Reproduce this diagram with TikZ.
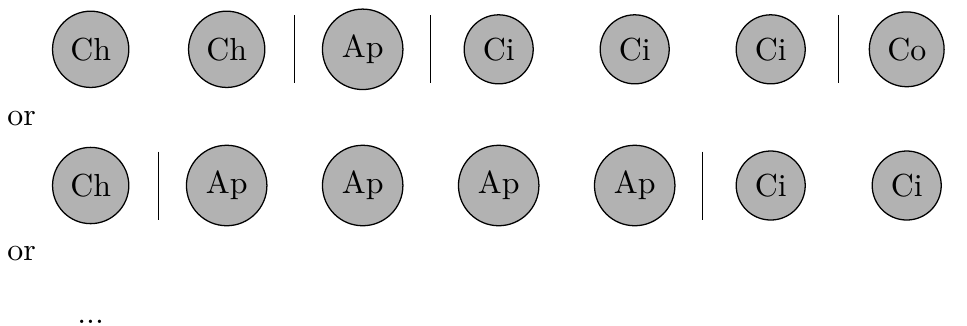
\documentclass[tikz,border=0pt]{standalone}
\begin{document}
\begin{tikzpicture}[
  ball/.style={circle, draw=black, fill=black!30},
  sep/.style={draw=black},
  txt/.style={inner sep=0pt, outer sep=0pt}
]
\useasboundingbox (0,0) rectangle (10.665,-3.585);
% row 1
\def\ya{-0.544}
\node[ball] (a1) at (1.0,\ya) {Ch};
\node[ball] (a2) at (2.5,\ya) {Ch};
\node[ball] (a3) at (4.0,\ya) {Ap};
\node[ball] (a4) at (5.5,\ya) {Ci};
\node[ball] (a5) at (7.0,\ya) {Ci};
\node[ball] (a6) at (8.5,\ya) {Ci};
\node[ball] (a7) at (10.0,\ya) {Co};
\coordinate (s1t) at (3.25,\ya+0.375); \coordinate (s1b) at (3.25,\ya-0.375);
\coordinate (s2t) at (4.75,\ya+0.375); \coordinate (s2b) at (4.75,\ya-0.375);
\coordinate (s3t) at (9.25,\ya+0.375); \coordinate (s3b) at (9.25,\ya-0.375);
\draw[sep] (s1t) -- (s1b);
\draw[sep] (s2t) -- (s2b);
\draw[sep] (s3t) -- (s3b);
% or
\node[txt, anchor=base west] (or1) at (0.082,-1.379) {or};
% row 2
\def\yb{-2.046}
\node[ball] (b1) at (1.0,\yb) {Ch};
\node[ball] (b2) at (2.5,\yb) {Ap};
\node[ball] (b3) at (4.0,\yb) {Ap};
\node[ball] (b4) at (5.5,\yb) {Ap};
\node[ball] (b5) at (7.0,\yb) {Ap};
\node[ball] (b6) at (8.5,\yb) {Ci};
\node[ball] (b7) at (10.0,\yb) {Ci};
\coordinate (t1t) at (1.75,\yb+0.375); \coordinate (t1b) at (1.75,\yb-0.375);
\coordinate (t2t) at (7.75,\yb+0.375); \coordinate (t2b) at (7.75,\yb-0.375);
\draw[sep] (t1t) -- (t1b);
\draw[sep] (t2t) -- (t2b);
\node[txt, anchor=base west] (or2) at (0.082,-2.868) {or};
\node[txt, anchor=base] (dots) at (1.0,-3.566) {...};
\end{tikzpicture}
\end{document}
